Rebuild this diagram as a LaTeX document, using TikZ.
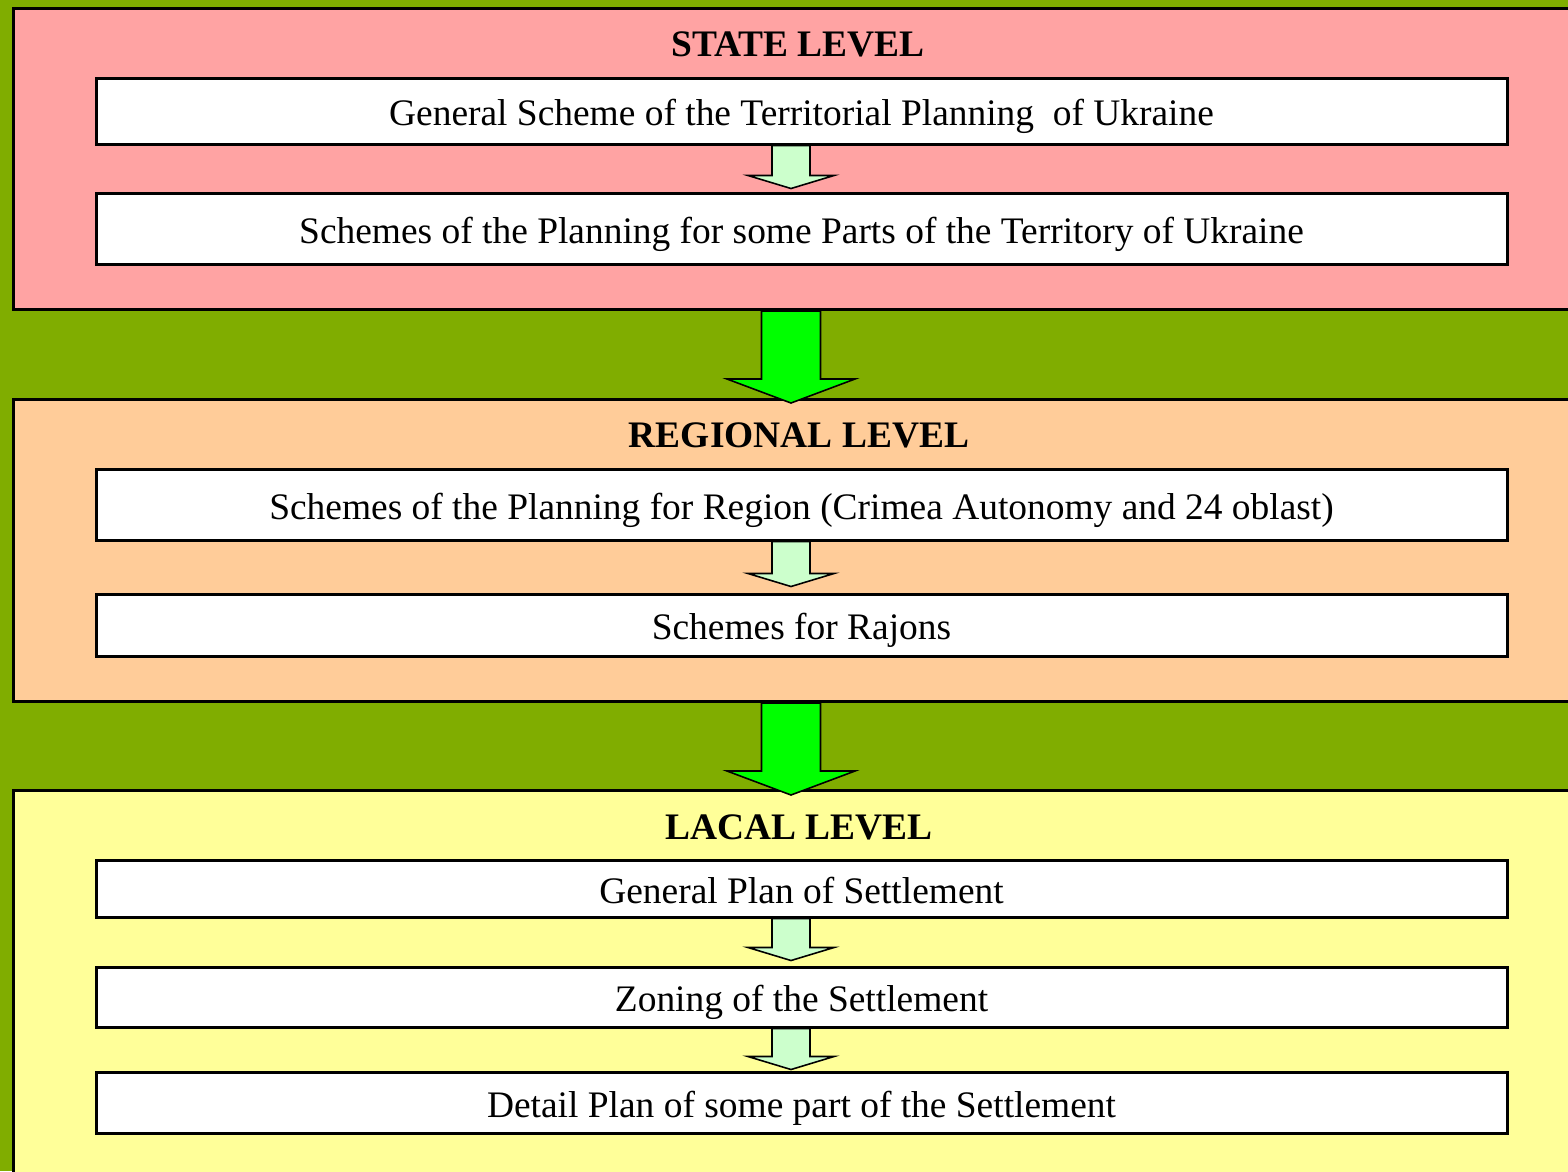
\documentclass[tikz,border=0pt]{standalone}
\usepackage{fontspec}
\setmainfont{Liberation Serif}
\usetikzlibrary{calc}

\definecolor{bgolive}{RGB}{128,173,0}
\definecolor{statepink}{RGB}{255,163,163}
\definecolor{regionpeach}{RGB}{255,204,153}
\definecolor{localyellow}{RGB}{255,255,153}
\definecolor{biggreen}{RGB}{0,255,0}
\definecolor{smallgreen}{RGB}{204,255,204}

% block arrow: style, from, to, shaft half width, head half width, head length, tip shift
\newcommand{\levelarrow}[7]{%
    \coordinate (top) at (#2.south -| axis);
    \coordinate (tip) at ($(#3.north -| axis)+(0,#7)$);
    \draw[#1] ($(top)+(-#4,0)$) -- ($(tip)+(-#4,#6)$) -- ($(tip)+(-#5,#6)$) -- (tip)
        -- ($(tip)+(#5,#6)$) -- ($(tip)+(#4,#6)$) -- ($(top)+(#4,0)$) -- cycle;
}

\begin{document}
\begin{tikzpicture}
    \tikzset{panel/.style={draw=black,line width=0.03cm,anchor=north west,minimum width=16cm,inner sep=0},
             plan/.style={draw=black,fill=white,line width=0.03cm,minimum width=14.11cm,inner sep=0,
                          text height=0.37cm,text depth=0.08cm,font=\fontsize{10.65}{12}\selectfont},
             leveltitle/.style={font=\fontsize{10.65}{12}\selectfont\bfseries,inner sep=0},
             bigarrow/.style={draw=black,fill=biggreen,line width=0.45pt},
             smallarrow/.style={draw=black,fill=smallgreen,line width=0.45pt}}
    \useasboundingbox (0,0) rectangle (15.68,-11.71);
    \fill[bgolive] (0,0) rectangle (15.68,-11.71);
    \clip (0,0) rectangle (15.68,-11.71);
    \coordinate (axis) at (7.91,0);

    % level panels
    \node[panel,fill=statepink,minimum height=3.01cm] (state) at (0.12,-0.07) {};
    \node[panel,fill=regionpeach,minimum height=3.02cm] (region) at (0.12,-3.98) {};
    \node[panel,fill=localyellow,minimum height=4.5cm] (local) at (0.12,-7.89) {};

    \node[leveltitle] (statetitle) at (7.98,-0.44) {STATE LEVEL};
    \node[leveltitle] (regiontitle) at (7.99,-4.35) {REGIONAL LEVEL};
    \node[leveltitle] (localtitle) at (7.99,-8.27) {LACAL LEVEL};

    % documents
    \node[plan,minimum height=0.66cm] (general) at (8.015,-1.11) {General Scheme of the Territorial Planning\ \ of Ukraine};
    \node[plan,minimum height=0.71cm] (parts) at (8.015,-2.285) {Schemes of the Planning for some Parts of the Territory of Ukraine};
    \node[plan,minimum height=0.71cm] (regions) at (8.015,-5.045) {Schemes of the Planning for Region (Crimea Autonomy and 24 oblast)};
    \node[plan,minimum height=0.62cm] (rajons) at (8.015,-6.25) {Schemes for Rajons};
    \node[plan,minimum height=0.57cm] (genplan) at (8.015,-8.885) {General Plan of Settlement};
    \node[plan,minimum height=0.60cm] (zoning) at (8.015,-9.97) {Zoning of the Settlement};
    \node[plan,minimum height=0.61cm] (detail) at (8.015,-11.025) {Detail Plan of some part of the Settlement};

    \levelarrow{bigarrow}{state}{region}{0.295}{0.64}{0.24}{-0.05}
    \levelarrow{bigarrow}{region}{local}{0.295}{0.64}{0.24}{-0.06}
    \levelarrow{smallarrow}{general}{parts}{0.19}{0.43}{0.13}{0.03}
    \levelarrow{smallarrow}{regions}{rajons}{0.19}{0.43}{0.13}{0.06}
    \levelarrow{smallarrow}{genplan}{zoning}{0.19}{0.43}{0.13}{0.05}
    \levelarrow{smallarrow}{zoning}{detail}{0.19}{0.43}{0.13}{0.01}
\end{tikzpicture}
\end{document}
